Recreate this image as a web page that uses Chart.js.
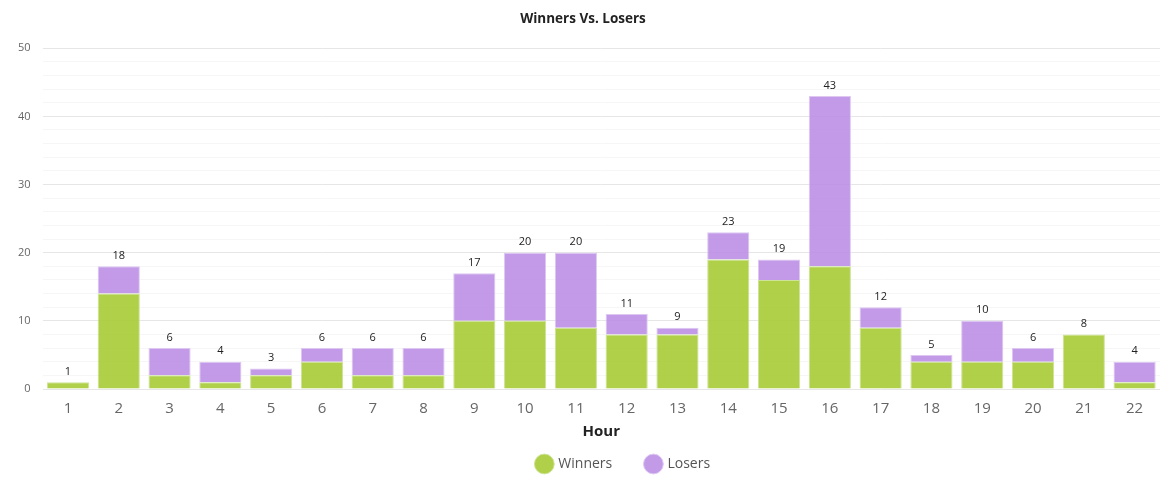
<!DOCTYPE html>
<html>
<head>
<meta charset="utf-8">
<script src="https://cdn.jsdelivr.net/npm/chart.js@4.4.1/dist/chart.umd.min.js"></script>
<style>
  html, body { margin: 0; padding: 0; background: #fff; }
  #wrap { width: 1167px; height: 493px; }
</style>
</head>
<body>
<div id="wrap"><canvas id="chart"></canvas></div>
<script>
const hours = ['1','2','3','4','5','6','7','8','9','10','11','12','13','14','15','16','17','18','19','20','21','22'];
const winners = [1, 14, 2, 1, 2, 4, 2, 2, 10, 10, 9, 8, 8, 19, 16, 18, 9, 4, 4, 4, 8, 1];
const losers  = [0, 4, 4, 3, 1, 2, 4, 4, 7, 10, 11, 3, 1, 4, 3, 25, 3, 1, 6, 2, 0, 3];

// totals above each stack
const totalsPlugin = {
    id: 'totals',
    afterLayout(chart) {
        // legend sits centred under the plot area, not the canvas
        const shift = (chart.chartArea.left + chart.chartArea.right) / 2 - chart.width / 2 + 32;
        chart.legend.left += shift;
        chart.legend.right += shift;
    },
    afterDatasetsDraw(chart) {
        const ctx = chart.ctx;
        const xs = chart.scales.x, ys = chart.scales.y;
        ctx.save();
        ctx.font = '11px "Open Sans"';
        ctx.fillStyle = '#222';
        ctx.textAlign = 'center';
        ctx.textBaseline = 'bottom';
        hours.forEach((h, i) => {
            const tot = winners[i] + losers[i];
            ctx.fillText(tot, xs.getPixelForValue(i), ys.getPixelForValue(tot) - 5);
        });
        ctx.restore();
    }
};

new Chart(document.getElementById('chart'), {
    type: 'bar',
    data: {
        labels: hours,
        datasets: [
            { label: 'Winners', data: winners, backgroundColor: 'rgba(167,203,54,0.9)', borderColor: 'rgba(205,228,150,1)', borderWidth: 1 },
            { label: 'Losers', data: losers, backgroundColor: 'rgba(186,140,228,0.88)', borderColor: 'rgba(222,200,242,1)', borderWidth: 1 }
        ]
    },
    options: {
        responsive: true,
        maintainAspectRatio: false,
        animation: false,
        categoryPercentage: 0.83,
        barPercentage: 1.0,
        layout: { padding: { left: 6, right: 7, top: 6, bottom: 12 } },
        plugins: {
            title: { display: true, text: 'Winners Vs. Losers', color: '#222', font: { family: 'Open Sans', size: 13.5, weight: 'bold' }, padding: { top: 5, bottom: 21 } },
            legend: {
                position: 'bottom',
                labels: { usePointStyle: true, pointStyle: 'circle', boxWidth: 15, boxHeight: 15, padding: 16, color: '#555', font: { family: 'Open Sans', size: 14 },
                          generateLabels: ch => Chart.defaults.plugins.legend.labels.generateLabels(ch).map(l => Object.assign(l, { text: l.text + '     ' })) }
            },
            tooltip: { enabled: false }
        },
        scales: {
            x: {
                stacked: true,
                grid: { display: false },
                border: { display: false },
                ticks: { color: '#666', font: { family: 'Open Sans', size: 15 }, padding: 3 },
                title: { display: true, text: 'Hour', color: '#222', font: { family: 'Open Sans', size: 15, weight: 'bold' }, padding: { top: 2, bottom: 0 } }
            },
            y: {
                stacked: true,
                min: 0, max: 50,
                border: { display: false },
                grid: {
                    drawTicks: false,
                    color: c => (c.tick && c.tick.value % 10 === 0) ? '#e6e6e6' : '#f6f6f6'
                },
                ticks: {
                    stepSize: 2, autoSkip: false, padding: 12,
                    color: '#666', font: { family: 'Open Sans', size: 11 },
                    callback: v => v % 10 === 0 ? v : ''
                }
            }
        }
    },
    plugins: [totalsPlugin]
});
</script>
</body>
</html>
